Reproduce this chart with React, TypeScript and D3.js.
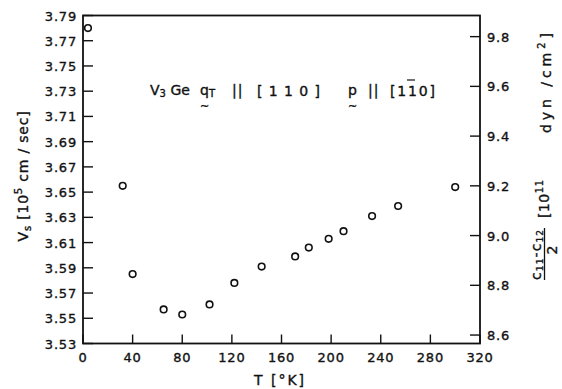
import React from "react";
import * as d3 from "d3";

// temperature (K) and shear wave velocity (10^5 cm/sec)
const temps = [4, 32, 40, 65, 80, 102, 122, 144, 171, 182, 198, 210, 233, 254, 300];
const velocities = [3.78, 3.655, 3.585, 3.557, 3.553, 3.561, 3.578, 3.591, 3.599, 3.606, 3.613, 3.619, 3.631, 3.639, 3.654];

const xTicks = [0, 40, 80, 120, 160, 200, 240, 280, 320];
const leftTicks = ["3.53", "3.55", "3.57", "3.59", "3.61", "3.63", "3.65", "3.67", "3.69", "3.71", "3.73", "3.75", "3.77", "3.79"];
const rightTicks = ["8.6", "8.8", "9.0", "9.2", "9.4", "9.6", "9.8"];

const W = 562, H = 389;
const m = { left: 83, right: 480, top: 15.5, bottom: 343.5 };
const font = "DejaVu Sans, sans-serif";
const ink = "#111";

export default function App() {
  const x = d3.scaleLinear().domain([0, 320]).range([m.left, m.right]);
  const y = d3.scaleLinear().domain([3.53, 3.79]).range([m.bottom, m.top]);
  const y2 = d3.scaleLinear().domain([8.566, 9.885]).range([m.bottom, m.top]);

  return (
    <svg width={W} height={H} style={{ position: "absolute", left: 0, top: 0, background: "#fff" }}
      fontFamily={font} fill={ink} stroke="none">
      {/* frame */}
      <rect x={m.left} y={m.top} width={m.right - m.left} height={m.bottom - m.top}
        fill="none" stroke={ink} strokeWidth={1.8} />

      <g stroke={ink} strokeWidth={0.35}>
        {/* left axis */}
        {leftTicks.map(t => (
          <g key={t}>
            <line x1={m.left} x2={m.left + 10} y1={y(+t)} y2={y(+t)} strokeWidth={1.4} />
            <text x={77} y={y(+t) + 5} textAnchor="end" fontSize={13} letterSpacing={0.8}>{t}</text>
          </g>
        ))}

        {/* right axis */}
        {rightTicks.map(t => (
          <g key={t}>
            <line x1={m.right - 10} x2={m.right} y1={y2(+t)} y2={y2(+t)} strokeWidth={1.4} />
            <text x={487} y={y2(+t) + 5} fontSize={13} letterSpacing={0.8}>{t}</text>
          </g>
        ))}

        {/* bottom axis */}
        {xTicks.map(t => (
          <g key={t}>
            <line x1={x(t)} x2={x(t)} y1={m.bottom} y2={m.bottom - 9} strokeWidth={1.4} />
            <text x={x(t)} y={362} textAnchor="middle" fontSize={13} letterSpacing={0.8}>{t}</text>
          </g>
        ))}
        <text x={280} y={385} textAnchor="middle" fontSize={14} letterSpacing={2}>T [°K]</text>

        {/* left label */}
        <g transform="translate(28,176) rotate(-90)">
          <text textAnchor="middle" fontSize={14} letterSpacing={0.8}>
            V<tspan fontSize={10} dy={3}>s</tspan>
            <tspan dy={-3}> [10</tspan>
            <tspan fontSize={10} dy={-6}>5</tspan>
            <tspan dy={6}> cm / sec]</tspan>
          </text>
        </g>

        {/* right label */}
        <g transform="rotate(-90)" fontSize={14}>
          <text x={-255} y={541} textAnchor="middle" textLength={50} lengthAdjust="spacing">
            c<tspan fontSize={9} dy={2}>11</tspan><tspan dy={-2}>-c</tspan><tspan fontSize={9} dy={2}>12</tspan>
          </text>
          <line x1={-280} x2={-228} y1={544.5} y2={544.5} strokeWidth={1.3} />
          <text x={-250} y={557} textAnchor="middle">2</text>
          <text x={-218} y={549} letterSpacing={0.5}>
            [10<tspan fontSize={10} dy={-6}>11</tspan>
          </text>
          <text x={-133} y={551} textLength={100} lengthAdjust="spacing">
            dyn /cm<tspan fontSize={10} dy={-6}>2</tspan><tspan dy={6}>]</tspan>
          </text>
        </g>

        {/* annotations */}
        <text x={150} y={95} fontSize={14}>
          V<tspan fontSize={10} dy={2}>3</tspan><tspan dy={-2}> Ge</tspan>
        </text>
        <text x={200} y={95} fontSize={14}>q<tspan fontSize={10} dy={2}>T</tspan></text>
        <text x={200} y={110} fontSize={11}>~</text>
        <text x={232} y={95} fontSize={14} letterSpacing={1}>||</text>
        <text x={257} y={96} fontSize={14} textLength={63} lengthAdjust="spacing">[110]</text>
        <text x={348} y={95} fontSize={14}>p</text>
        <text x={348} y={110} fontSize={11}>~</text>
        <text x={368} y={95} fontSize={14} letterSpacing={1}>||</text>
        <text x={390} y={96} fontSize={14} textLength={45} lengthAdjust="spacing">[110]</text>
        <line x1={407} x2={415} y1={80} y2={80} strokeWidth={1.2} />
      </g>

      {/* data */}
      {temps.map((t, i) => (
        <circle key={i} cx={x(t)} cy={y(velocities[i])} r={3.3} fill="#fff" stroke={ink} strokeWidth={1.6} />
      ))}
    </svg>
  );
}
